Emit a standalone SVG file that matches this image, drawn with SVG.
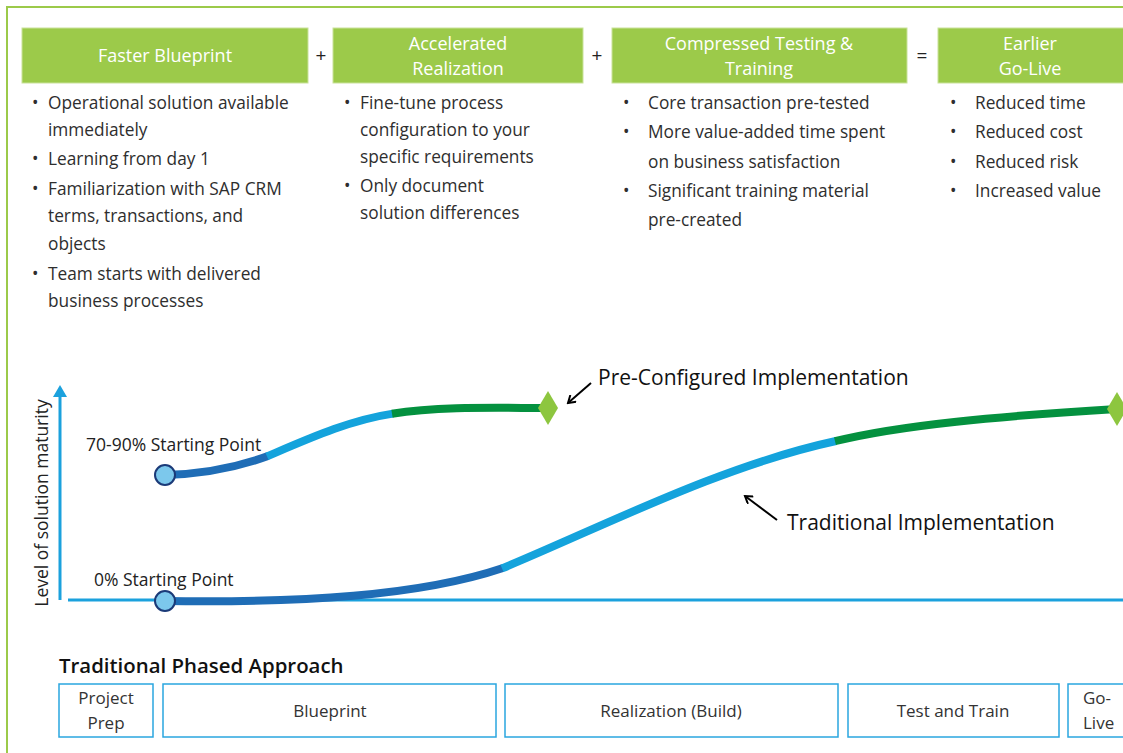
<svg xmlns="http://www.w3.org/2000/svg" width="1123" height="753" viewBox="0 0 1123 753">
<style>
text{font-family:"Open Sans","Noto Sans","Liberation Sans",sans-serif;}
.hdr{fill:#9cca4a;stroke:#c9e29a;stroke-width:1}
.ht{fill:#ffffff;font-size:18px;text-anchor:middle}
.op{fill:#222;font-size:19px;text-anchor:middle}
.b{fill:#2e2e2e;font-size:17.3px}
.lbl{fill:#222;font-size:17.5px}
.big{fill:#111;font-size:21px}
.ph{fill:#fff;stroke:#2aa6df;stroke-width:1.5}
.pt{fill:#333;font-size:17px;text-anchor:middle}
.pts{fill:#333;font-size:17px;text-anchor:start}
.db{fill:none;stroke:#1f6db6;stroke-width:8}
.lb{fill:none;stroke:#14a3dc;stroke-width:8}
.gr{fill:none;stroke:#04913f;stroke-width:8}
.dot{fill:#7cc8ec;stroke:#1b3a78;stroke-width:2}
.dia{fill:#8dc63f}
.ax{stroke:#1ba1dd;stroke-width:3;fill:none}
.arr{stroke:#000;stroke-width:2;fill:none}
</style>
<defs>
<marker id="ah" markerWidth="10" markerHeight="10" refX="8" refY="5" orient="auto" markerUnits="userSpaceOnUse"><path d="M1,0.5 L8,5 L1,9.5" fill="none" stroke="#000" stroke-width="2"/></marker>
</defs>
<rect x="0" y="0" width="1123" height="753" fill="#fff"/>
<path d="M7,760 L7,7 L1130,7" fill="none" stroke="#9cca4a" stroke-width="2"/>

<g id="h1"><rect class="hdr" x="22" y="28" width="286" height="55"/><text class="ht" x="165" y="62">Faster Blueprint</text></g>
<text class="op" x="321" y="62">+</text>
<g id="h2"><rect class="hdr" x="333" y="28" width="250" height="55"/><text class="ht" x="458" y="50">Accelerated</text><text class="ht" x="458" y="75">Realization</text></g>
<text class="op" x="597" y="62">+</text>
<g id="h3"><rect class="hdr" x="612" y="28" width="295" height="55"/><text class="ht" x="759" y="50">Compressed Testing &amp;</text><text class="ht" x="759" y="75">Training</text></g>
<text class="op" x="922" y="62">=</text>
<g id="h4"><rect class="hdr" x="938" y="28" width="190" height="55"/><text class="ht" x="1030" y="50">Earlier</text><text class="ht" x="1030" y="75">Go-Live</text></g>

<g id="list1">
<text class="b" x="32" y="109">•</text><text class="b" x="48" y="109">Operational solution available</text>
<text class="b" x="48" y="136">immediately</text>
<text class="b" x="32" y="165">•</text><text class="b" x="48" y="165">Learning from day 1</text>
<text class="b" x="32" y="195">•</text><text class="b" x="48" y="195">Familiarization with SAP CRM</text>
<text class="b" x="48" y="222">terms, transactions, and</text>
<text class="b" x="48" y="250">objects</text>
<text class="b" x="32" y="280">•</text><text class="b" x="48" y="280">Team starts with delivered</text>
<text class="b" x="48" y="307">business processes</text>
</g>
<g id="list2">
<text class="b" x="344" y="109">•</text><text class="b" x="360" y="109">Fine-tune process</text>
<text class="b" x="360" y="136">configuration to your</text>
<text class="b" x="360" y="163">specific requirements</text>
<text class="b" x="344" y="192">•</text><text class="b" x="360" y="192">Only document</text>
<text class="b" x="360" y="219">solution differences</text>
</g>
<g id="list3">
<text class="b" x="623" y="109">•</text><text class="b" x="648" y="109">Core transaction pre-tested</text>
<text class="b" x="623" y="138">•</text><text class="b" x="648" y="138">More value-added time spent</text>
<text class="b" x="648" y="168">on business satisfaction</text>
<text class="b" x="623" y="197">•</text><text class="b" x="648" y="197">Significant training material</text>
<text class="b" x="648" y="226">pre-created</text>
</g>
<g id="list4">
<text class="b" x="950" y="109">•</text><text class="b" x="975" y="109">Reduced time</text>
<text class="b" x="950" y="138">•</text><text class="b" x="975" y="138">Reduced cost</text>
<text class="b" x="950" y="168">•</text><text class="b" x="975" y="168">Reduced risk</text>
<text class="b" x="950" y="197">•</text><text class="b" x="975" y="197">Increased value</text>
</g>

<g id="axes">
<line class="ax" x1="60" y1="600" x2="60" y2="396"/>
<path d="M53,397 L60,385 L67,397 Z" fill="#1ba1dd"/>
<line class="ax" x1="68" y1="600" x2="1123" y2="600"/>
<text class="lbl" transform="translate(48,503) rotate(-90)" text-anchor="middle">Level of solution maturity</text>
<text class="lbl" x="86" y="451">70-90% Starting Point</text>
<text class="lbl" x="94" y="586">0% Starting Point</text>
</g>

<g id="connectors">
<path class="db" d="M165,475 C200,474 238,467 268,456"/>
<path class="lb" d="M267,456.4 C310,438 350,420 393,413.6"/>
<path class="gr" d="M392,413.8 C440,406 500,408 545,408"/>
<path class="db" d="M165,601 C300,603 420,596 503,568"/>
<path class="lb" d="M502,568.4 C600,528 720,466 836,441"/>
<path class="gr" d="M835,441.2 C900,425 1000,416 1117,409"/>
<line class="arr" x1="591" y1="383" x2="568" y2="403" marker-end="url(#ah)"/>
<line class="arr" x1="777" y1="520" x2="745" y2="496" marker-end="url(#ah)"/>
</g>

<g id="start-high"><circle class="dot" cx="165" cy="475" r="10"/></g>
<g id="start-low"><circle class="dot" cx="165" cy="601" r="10"/></g>
<g id="end-pre"><path class="dia" d="M548,391 L558,408 L548,425 L538,408 Z"/></g>
<g id="end-trad"><path class="dia" d="M1117,392 L1127,409 L1117,426 L1107,409 Z"/></g>

<text class="big" x="598" y="385">Pre-Configured Implementation</text>
<text class="big" x="787" y="530">Traditional Implementation</text>

<text class="big" x="59" y="673" style="font-weight:600;font-size:20.4px">Traditional Phased Approach</text>
<g id="p1"><rect class="ph" x="59" y="684" width="94" height="53"/><text class="pt" x="106" y="704">Project</text><text class="pt" x="106" y="729">Prep</text></g>
<g id="p2"><rect class="ph" x="163" y="684" width="333" height="53"/><text class="pt" x="330" y="717">Blueprint</text></g>
<g id="p3"><rect class="ph" x="505" y="684" width="333" height="53"/><text class="pt" x="671" y="717">Realization (Build)</text></g>
<g id="p4"><rect class="ph" x="848" y="684" width="211" height="53"/><text class="pt" x="953" y="717">Test and Train</text></g>
<g id="p5"><rect class="ph" x="1068" y="684" width="70" height="53"/><text class="pts" x="1083" y="704">Go-</text><text class="pts" x="1083" y="729">Live</text></g>
</svg>
